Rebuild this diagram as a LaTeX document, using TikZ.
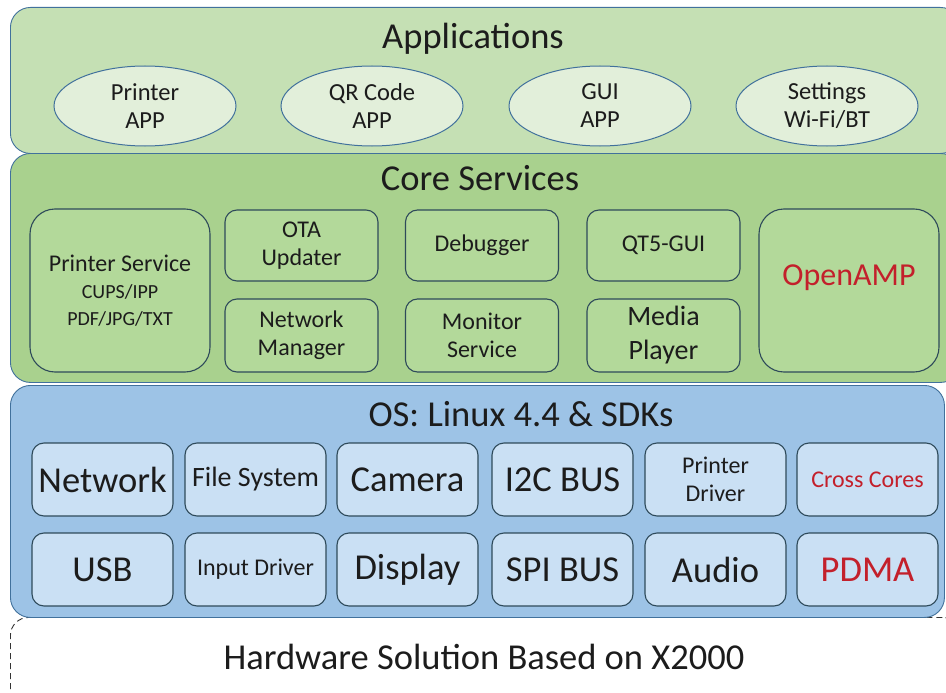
\documentclass[tikz,border=0pt]{standalone}
\usepackage{fontspec}
\setmainfont{Carlito}
\usetikzlibrary{shapes.geometric}
\definecolor{appfill}{HTML}{C5E0B4}
\definecolor{ellfill}{HTML}{E2EFDA}
\definecolor{corefill}{HTML}{A9D18E}
\definecolor{coreinner}{HTML}{B3D99A}
\definecolor{osfill}{HTML}{9DC3E6}
\definecolor{osinner}{HTML}{CAE0F4}
\definecolor{layerline}{HTML}{41719C}
\definecolor{innerline}{HTML}{2E4A5A}
\definecolor{redtxt}{HTML}{C3202B}
\definecolor{txt}{HTML}{1C1C1C}
\begin{document}
\begin{tikzpicture}[x=1pt,y=-1pt,
  every node/.style={text=txt},
  layer/.style={draw=layerline, line width=0.9pt, rounded corners=20pt, anchor=north west, inner sep=0pt},
  title/.style={font=\fontsize{36.5}{40}\selectfont, inner sep=0pt},
  app/.style={ellipse, draw=layerline, line width=1pt, fill=ellfill, minimum width=182pt, minimum height=80pt, inner sep=0pt, align=center, font=\fontsize{24.5}{28}\selectfont},
  cbox/.style={draw=innerline, line width=1.1pt, fill=coreinner, rounded corners=12pt, minimum width=153pt, inner sep=0pt, align=center, font=\fontsize{24}{28}\selectfont},
  bigbox/.style={draw=innerline, line width=1.1pt, fill=coreinner, rounded corners=25pt, minimum width=180pt, minimum height=163pt, inner sep=0pt, align=center},
  obox/.style={draw=innerline, line width=1.1pt, fill=osinner, rounded corners=12pt, minimum width=141pt, minimum height=73pt, inner sep=0pt, align=center, font=\fontsize{36.5}{40}\selectfont},
  hwbox/.style={draw=black!80, line width=0.9pt, dash pattern=on 6pt off 4pt, rounded corners=18pt, anchor=north west, inner sep=0pt}
]
\useasboundingbox (0,0) rectangle (946,693);

% hardware (dashed, partly hidden)
\node[hwbox, minimum width=950pt, minimum height=110pt] (hw) at (10,617) {};
\node[title] (hwt) at (484,657) {Hardware Solution Based on X2000};

% layers
\node[layer, fill=appfill, minimum width=950pt, minimum height=146pt] (apps) at (10,7) {};
\node[layer, fill=corefill, minimum width=950pt, minimum height=229pt] (core) at (10,153) {};
\node[layer, fill=osfill, minimum width=934pt, minimum height=232pt] (os) at (10,385) {};

\node[title] (appst) at (473,39) {Applications};
\node[title] (coret) at (480,178) {Core Services};
\node[title] (ost) at (521,414) {OS: Linux 4.4 \& SDKs};

% applications
\node[app] (a1) at (145,106) {Printer\\APP};
\node[app] (a2) at (372,106) {QR Code\\APP};
\node[app] (a3) at (600,106) {GUI\\APP};
\node[app] (a4) at (827,106) {Settings\\Wi-Fi/BT};

% core services
\node[bigbox, font=\fontsize{24}{27}\selectfont] (ps) at (120,290.5)
  {Printer Service\\{\fontsize{20}{24}\selectfont CUPS/IPP}\\{\fontsize{20}{24}\selectfont PDF/JPG/TXT}};
\node[cbox, minimum height=71pt] (ota) at (301.5,245.5) {OTA\\Updater};
\node[cbox, minimum height=73pt] (nm) at (301.5,335.5) {Network\\Manager};
\node[cbox, minimum height=71pt] (dbg) at (482,245.5) {Debugger};
\node[cbox, minimum height=73pt] (mon) at (482,335.5) {Monitor\\Service};
\node[cbox, minimum height=71pt] (qt) at (663.5,245.5) {QT5-GUI};
\node[cbox, minimum height=73pt, font=\fontsize{28}{34}\selectfont] (mp) at (663.5,335.5) {Media\\Player};
\node[bigbox] (amp) at (849,290.5) {};
\node[text=redtxt, font=\fontsize{32}{36}\selectfont, inner sep=0pt] (ampt) at (849,278) {OpenAMP};

% OS row 1
\node[obox] (net) at (102.5,479.5) {Network};
\node[obox, font=\fontsize{28}{32}\selectfont] (fs) at (255.5,479.5) {File System};
\node[obox] (cam) at (407.5,479.5) {Camera};
\node[obox] (i2c) at (562.5,479.5) {I2C BUS};
\node[obox, font=\fontsize{24}{28}\selectfont] (pd) at (715.5,479.5) {Printer\\Driver};
\node[obox, font=\fontsize{24}{28}\selectfont, text=redtxt] (cc) at (867.5,479.5) {Cross Cores};
% OS row 2
\node[obox] (usb) at (102.5,569.5) {USB};
\node[obox, font=\fontsize{24}{28}\selectfont] (inp) at (255.5,569.5) {Input Driver};
\node[obox] (disp) at (407.5,569.5) {Display};
\node[obox] (spi) at (562.5,569.5) {SPI BUS};
\node[obox] (aud) at (715.5,569.5) {Audio};
\node[obox, text=redtxt] (pdma) at (867.5,569.5) {PDMA};
\end{tikzpicture}
\end{document}
